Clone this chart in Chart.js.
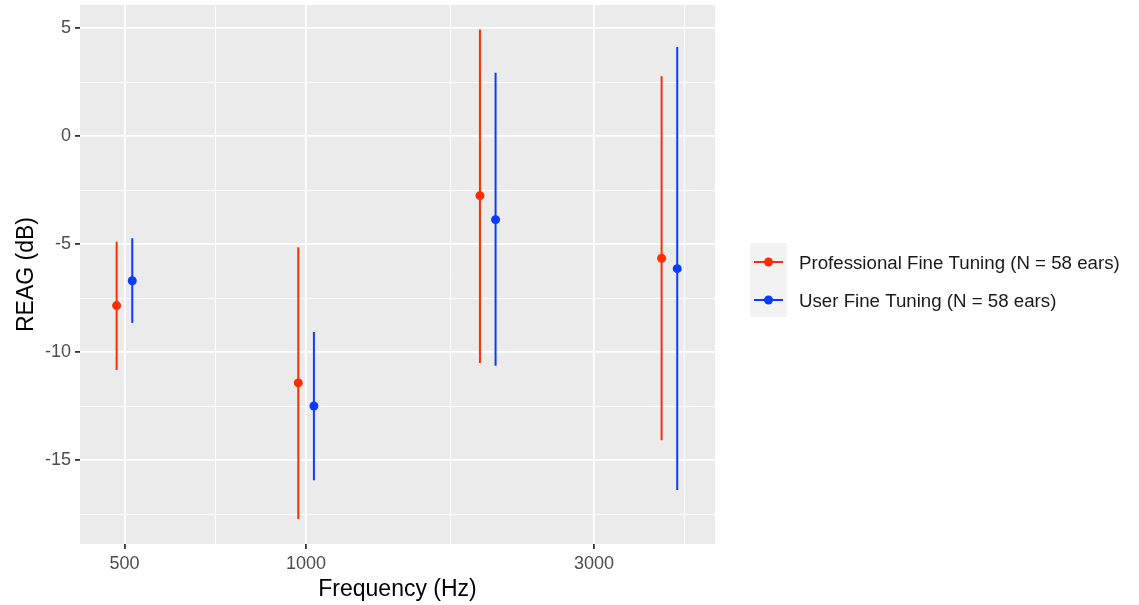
<!DOCTYPE html>
<html>
<head>
<meta charset="utf-8">
<script src="https://cdn.jsdelivr.net/npm/chart.js@4.4.0/dist/chart.umd.min.js"></script>
<style>
  html, body { margin: 0; padding: 0; background: #fff; }
  canvas { display: block; }
</style>
</head>
<body>
<canvas id="c" width="1139" height="605"></canvas>
<script>
// datos
const freqs = [500, 1000, 2000, 4000];
const proMean = [-7.84, -11.42, -2.75, -5.65];
const proLow = [-10.82, -17.72, -10.5, -14.07];
const proHigh = [-4.88, -5.14, 4.94, 2.78];
const userMean = [-6.69, -12.49, -3.86, -6.13];
const userLow = [-8.64, -15.93, -10.62, -16.38];
const userHigh = [-4.72, -9.06, 2.94, 4.13];

const xTicks = [500, 1000, 3000];
const xMinor = [707, 1732, 4243];
const yTicks = [-15, -10, -5, 0, 5];
const yMinor = [-17.5, -12.5, -7.5, -2.5, 2.5];

const labels = ["Professional Fine Tuning (N = 58 ears)", "User Fine Tuning (N = 58 ears)"];
const colores = ["#FF2D00", "#0A3CFF"];

// dodge (en escala log)
const dodge = Math.pow(2, 0.043);
const FONT = "'Liberation Sans', Arial, Helvetica, sans-serif";

function puntos(mean, low, high, factor) {
    return freqs.map((f, i) => ({ x: f * factor, y: mean[i], low: low[i], high: high[i] }));
}

// fondo del panel
const panelFondo = {
    id: 'panelFondo',
    beforeDraw(chart) {
        const a = chart.chartArea, ctx = chart.ctx;
        ctx.save();
        ctx.fillStyle = '#EBEBEB';
        ctx.fillRect(a.left, a.top, a.right - a.left, a.bottom - a.top);
        ctx.restore();
    }
};

// barras de error
const barrasError = {
    id: 'barrasError',
    beforeDatasetsDraw(chart) {
        const ctx = chart.ctx, xs = chart.scales.x, ys = chart.scales.y;
        ctx.save();
        chart.data.datasets.forEach(ds => {
            ctx.strokeStyle = ds.borderColor;
            ctx.lineWidth = 2;
            ds.data.forEach(p => {
                const x = xs.getPixelForValue(p.x);
                ctx.beginPath();
                ctx.moveTo(x, ys.getPixelForValue(p.low));
                ctx.lineTo(x, ys.getPixelForValue(p.high));
                ctx.stroke();
            });
        });
        ctx.restore();
    }
};

// leyenda estilo ggplot
const leyenda = {
    id: 'leyenda',
    afterDraw(chart) {
        const ctx = chart.ctx;
        const x0 = 750, y0 = 243, w = 37, h = 74;
        ctx.save();
        ctx.fillStyle = '#F2F2F2';
        ctx.fillRect(x0, y0, w, h);
        const ys = [262, 300];
        chart.data.datasets.forEach((ds, i) => {
            ctx.strokeStyle = ds.borderColor;
            ctx.lineWidth = 2;
            ctx.beginPath();
            ctx.moveTo(x0 + 4, ys[i]);
            ctx.lineTo(x0 + w - 4, ys[i]);
            ctx.stroke();
            ctx.fillStyle = ds.backgroundColor;
            ctx.beginPath();
            ctx.arc(x0 + w / 2, ys[i], 4.5, 0, Math.PI * 2);
            ctx.fill();
            ctx.fillStyle = '#1A1A1A';
            ctx.font = '18.7px ' + FONT;
            ctx.textBaseline = 'middle';
            ctx.textAlign = 'left';
            ctx.fillText(ds.label, 799, ys[i] + 2);
        });
        ctx.restore();
    }
};

function esMayor(lista, v) {
    return lista.some(t => Math.abs(t - v) < 1e-6);
}

new Chart(document.getElementById('c'), {
    type: 'scatter',
    data: {
        datasets: [
            {
                label: labels[0],
                data: puntos(proMean, proLow, proHigh, 1 / dodge),
                backgroundColor: colores[0],
                borderColor: colores[0],
                pointRadius: 4.5,
                pointBorderWidth: 0
            },
            {
                label: labels[1],
                data: puntos(userMean, userLow, userHigh, dodge),
                backgroundColor: colores[1],
                borderColor: colores[1],
                pointRadius: 4.5,
                pointBorderWidth: 0
            }
        ]
    },
    options: {
        responsive: false,
        animation: false,
        devicePixelRatio: 1,
        layout: { padding: { left: 0, top: 5, right: 1139 - 715, bottom: 0 } },
        plugins: {
            legend: { display: false },
            tooltip: { enabled: false }
        },
        scales: {
            x: {
                type: 'logarithmic',
                min: 422,
                max: 4760,
                afterBuildTicks: s => {
                    s.ticks = xTicks.concat(xMinor).sort((a, b) => a - b).map(v => ({ value: v }));
                },
                afterFit: s => { s.height = 61; s.paddingLeft = 0; s.paddingRight = 0; },
                border: { display: false },
                grid: {
                    color: '#FFFFFF',
                    lineWidth: c => esMayor(xTicks, c.tick.value) ? 1.8 : 1,
                    tickColor: c => esMayor(xTicks, c.tick.value) ? '#333333' : 'rgba(0,0,0,0)',
                    tickLength: 5,
                    drawTicks: true
                },
                ticks: {
                    autoSkip: false,
                    maxRotation: 0,
                    padding: 4,
                    color: '#4D4D4D',
                    font: { family: FONT, size: 18 },
                    callback: v => esMayor(xTicks, v) ? String(v) : ''
                },
                title: {
                    display: true,
                    text: 'Frequency (Hz)',
                    color: '#000000',
                    font: { family: FONT, size: 23 },
                    padding: { top: 0, bottom: 2 }
                }
            },
            y: {
                min: -18.88,
                max: 6.08,
                afterBuildTicks: s => {
                    s.ticks = yTicks.concat(yMinor).sort((a, b) => a - b).map(v => ({ value: v }));
                },
                afterFit: s => { s.width = 80; s.paddingTop = 0; s.paddingBottom = 0; },
                border: { display: false },
                grid: {
                    color: '#FFFFFF',
                    lineWidth: c => esMayor(yTicks, c.tick.value) ? 1.8 : 1,
                    tickColor: c => esMayor(yTicks, c.tick.value) ? '#333333' : 'rgba(0,0,0,0)',
                    tickLength: 5,
                    drawTicks: true
                },
                ticks: {
                    autoSkip: false,
                    padding: 4,
                    color: '#4D4D4D',
                    font: { family: FONT, size: 18 },
                    callback: v => esMayor(yTicks, v) ? String(v) : ''
                },
                title: {
                    display: true,
                    text: 'REAG (dB)',
                    color: '#000000',
                    font: { family: FONT, size: 23 },
                    padding: { top: 13, bottom: 0 }
                }
            }
        }
    },
    plugins: [panelFondo, barrasError, leyenda]
});
</script>
</body>
</html>
